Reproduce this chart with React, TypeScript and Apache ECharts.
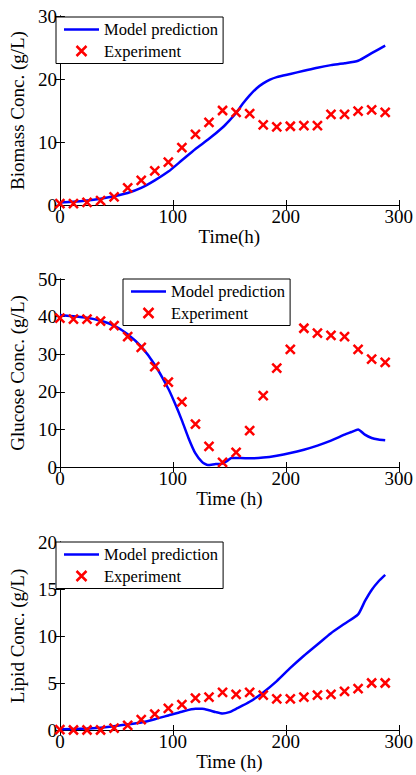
import React, { useEffect, useRef } from "react";
import * as echarts from "echarts";

// Sampling times of the fermentation experiment (h)
const EXP_TIME = [0, 12, 24, 36, 48, 60, 72, 84, 96, 108, 120, 132, 144, 156, 168, 180, 192, 204, 216, 228, 240, 252, 264, 276, 288];

// Measured concentrations (g/L)
const BIOMASS_EXP = [0.2, 0.2, 0.4, 0.7, 1.3, 2.7, 3.9, 5.4, 6.8, 9.1, 11.2, 13.1, 15.0, 14.7, 14.5, 12.7, 12.4, 12.5, 12.6, 12.6, 14.4, 14.4, 14.9, 15.1, 14.7];
const GLUCOSE_EXP = [39.6, 39.3, 39.3, 38.8, 37.6, 34.7, 31.8, 26.7, 22.6, 17.3, 11.4, 5.5, 1.2, 3.9, 9.7, 19.0, 26.3, 31.3, 36.9, 35.6, 35.0, 34.7, 31.3, 28.7, 27.8];
const LIPID_EXP = [0.05, 0.0, 0.0, 0.0, 0.2, 0.5, 1.1, 1.7, 2.3, 2.7, 3.4, 3.5, 4.0, 3.8, 4.0, 3.7, 3.3, 3.3, 3.5, 3.7, 3.8, 4.1, 4.4, 5.0, 5.0];

// Model predictions (g/L)
const BIOMASS_MODEL_TIME = [0, 12, 24, 36, 48, 60, 72, 84, 96, 108, 120, 132, 144, 150, 156, 162, 168, 174, 180, 186, 192, 204, 216, 228, 240, 252, 264, 276, 288];
const BIOMASS_MODEL = [0.4, 0.5, 0.7, 1.0, 1.4, 1.9, 2.7, 3.9, 5.3, 7.1, 8.9, 10.5, 12.3, 13.4, 14.6, 16.1, 17.4, 18.5, 19.3, 19.9, 20.3, 20.8, 21.3, 21.8, 22.2, 22.5, 22.9, 24.1, 25.3];

const GLUCOSE_MODEL_TIME = [0, 12, 24, 36, 48, 60, 72, 84, 96, 102, 108, 114, 120, 126, 131, 138, 144, 148, 152, 160, 168, 180, 192, 204, 216, 228, 240, 252, 258, 264, 270, 276, 282, 288];
const GLUCOSE_MODEL = [40.4, 40.1, 39.7, 38.9, 37.6, 35.3, 32.0, 27.2, 20.8, 16.8, 12.4, 7.6, 3.6, 1.3, 0.5, 0.8, 0.9, 1.6, 2.4, 2.4, 2.3, 2.5, 3.0, 3.7, 4.6, 5.7, 7.0, 8.6, 9.3, 10.0, 8.6, 7.7, 7.3, 7.1];

const LIPID_MODEL_TIME = [0, 24, 36, 48, 60, 72, 84, 96, 108, 120, 126, 132, 138, 144, 150, 156, 168, 180, 192, 204, 216, 228, 240, 252, 264, 270, 276, 282, 288];
const LIPID_MODEL = [0.08, 0.15, 0.25, 0.4, 0.6, 0.8, 1.15, 1.55, 1.95, 2.25, 2.25, 2.1, 1.9, 1.75, 1.9, 2.25, 3.0, 4.0, 5.2, 6.6, 7.9, 9.1, 10.3, 11.3, 12.3, 13.7, 14.9, 15.8, 16.5];

// Axis ranges and labels
const X_MAX = 300;
const X_INTERVAL = 100;
const Y_MAX = [30, 50, 20];
const Y_INTERVAL = [10, 10, 5];
const Y_TITLES = ["Biomass Conc. (g/L)", "Glucose Conc. (g/L)", "Lipid Conc. (g/L)"];
const X_TITLES = ["Time(h)", "Time (h)", "Time (h)"];
const MODEL_NAME = "Model prediction";
const EXP_NAME = "Experiment";

// Layout of the three stacked panels
const GRID_LEFT = 56;
const GRID_WIDTH = 344;
const GRID_TOP = [16, 279, 542];
const GRID_HEIGHT = [189, 188, 188];
const LEGEND_POS = [
  { left: 56, top: 17 },
  { left: 123, top: 279 },
  { left: 56, top: 542 },
];

const FONT = '"Liberation Serif", "Times New Roman", Times, serif';
const CROSS = "path://M0,0L10,10M10,0L0,10";

const zip = (xs: number[], ys: number[]) => xs.map((x, i) => [x, ys[i]]);

function buildOption(): echarts.EChartsCoreOption {
  const models = [
    zip(BIOMASS_MODEL_TIME, BIOMASS_MODEL),
    zip(GLUCOSE_MODEL_TIME, GLUCOSE_MODEL),
    zip(LIPID_MODEL_TIME, LIPID_MODEL),
  ];
  const exps = [
    zip(EXP_TIME, BIOMASS_EXP),
    zip(EXP_TIME, GLUCOSE_EXP),
    zip(EXP_TIME, LIPID_EXP),
  ];
  const panels = [0, 1, 2];

  const axisLine = { show: true, lineStyle: { color: "#000", width: 1 } };
  const tick = { show: true, inside: true, length: 5, lineStyle: { color: "#000", width: 1 } };
  const labelStyle = { color: "#000", fontFamily: FONT, fontSize: 19 };

  const grid = panels.map((i) => ({
    left: GRID_LEFT,
    top: GRID_TOP[i],
    width: GRID_WIDTH,
    height: GRID_HEIGHT[i],
    containLabel: false,
  }));

  const xBottom = panels.map((i) => ({
    type: "value",
    gridIndex: i,
    position: "bottom",
    min: 0,
    max: X_MAX,
    interval: X_INTERVAL,
    axisLine,
    axisTick: tick,
    splitLine: { show: false },
    axisLabel: { ...labelStyle, margin: 2 },
    name: X_TITLES[i],
    nameLocation: "middle",
    nameGap: 18,
    nameTextStyle: { ...labelStyle, verticalAlign: "top" },
  }));
  const xTop = panels.map((i) => ({
    type: "value",
    gridIndex: i,
    position: "top",
    min: 0,
    max: X_MAX,
    interval: X_INTERVAL,
    axisLine,
    axisTick: tick,
    splitLine: { show: false },
    axisLabel: { show: false },
  }));
  const yLeft = panels.map((i) => ({
    type: "value",
    gridIndex: i,
    position: "left",
    min: 0,
    max: Y_MAX[i],
    interval: Y_INTERVAL[i],
    axisLine,
    axisTick: tick,
    splitLine: { show: false },
    axisLabel: { ...labelStyle, margin: 3 },
    name: Y_TITLES[i],
    nameLocation: "middle",
    nameGap: 27,
    nameTextStyle: labelStyle,
  }));
  const yRight = panels.map((i) => ({
    type: "value",
    gridIndex: i,
    position: "right",
    min: 0,
    max: Y_MAX[i],
    interval: Y_INTERVAL[i],
    axisLine,
    axisTick: tick,
    splitLine: { show: false },
    axisLabel: { show: false },
  }));

  const series: any[] = [];
  panels.forEach((i) => {
    series.push({
      type: "line",
      name: MODEL_NAME,
      xAxisIndex: i,
      yAxisIndex: i,
      data: models[i],
      showSymbol: false,
      symbol: "none",
      smooth: 0.2,
      lineStyle: { color: "#0000ff", width: 2.5 },
      itemStyle: { color: "#0000ff" },
      z: 2,
    });
    series.push({
      type: "scatter",
      name: EXP_NAME,
      xAxisIndex: i,
      yAxisIndex: i,
      data: exps[i],
      symbol: CROSS,
      symbolSize: 9,
      itemStyle: { color: "#ff0000", borderColor: "#ff0000", borderWidth: 2.5, opacity: 1 },
      z: 3,
    });
  });

  const legend = panels.map((i) => ({
    orient: "vertical",
    left: LEGEND_POS[i].left,
    top: LEGEND_POS[i].top,
    selectedMode: false,
    backgroundColor: "#fff",
    borderColor: "#000",
    borderWidth: 1,
    borderRadius: 0,
    padding: [4, 5, 4, 8],
    itemGap: 4.5,
    itemWidth: 35,
    itemHeight: 10,
    textStyle: { color: "#000", fontFamily: FONT, fontSize: 16.5, lineHeight: 17 },
    data: [
      { name: MODEL_NAME, icon: "path://M0,0H14V1H0Z", itemStyle: { borderWidth: 0 } },
      { name: EXP_NAME, itemStyle: { borderWidth: 2.5 } },
    ],
    z: 10,
  }));

  return {
    animation: false,
    backgroundColor: "#fff",
    textStyle: { fontFamily: FONT },
    grid,
    xAxis: [...xBottom, ...xTop],
    yAxis: [...yLeft, ...yRight],
    legend,
    series,
  };
}

export default function App() {
  const ref = useRef<HTMLDivElement>(null);

  useEffect(() => {
    if (!ref.current) return;
    const chart = echarts.init(ref.current, undefined, { renderer: "svg" });
    chart.setOption(buildOption());
    return () => chart.dispose();
  }, []);

  return (
    <div
      ref={ref}
      style={{ position: "absolute", left: 0, top: 0, width: 416, height: 775, background: "#fff" }}
    />
  );
}
